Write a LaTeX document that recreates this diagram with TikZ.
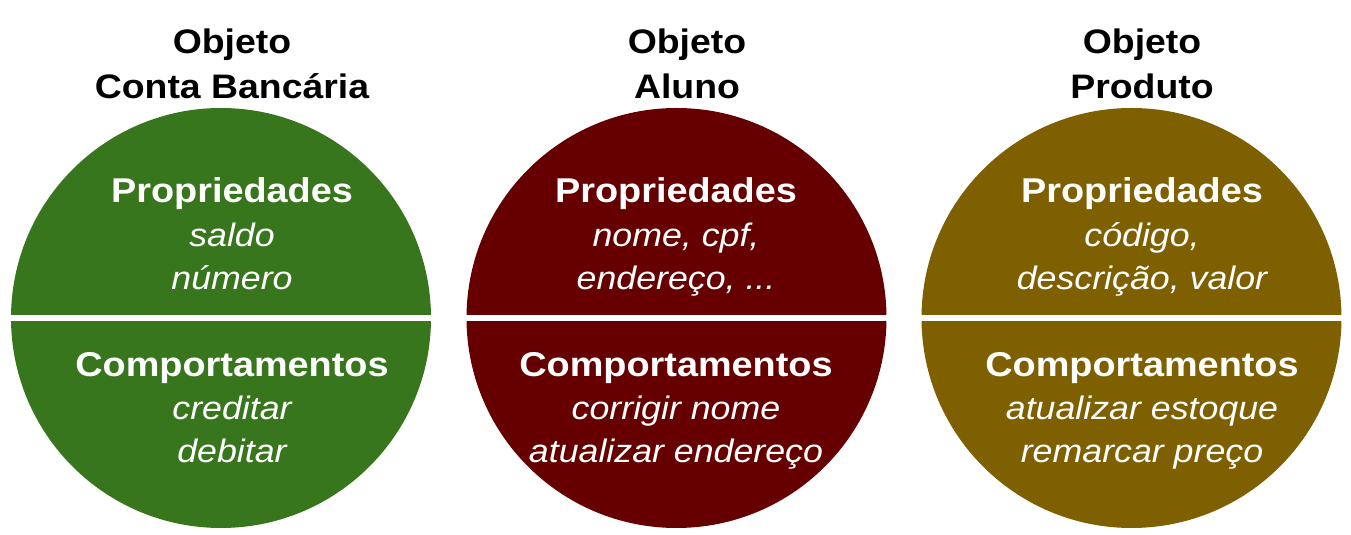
\documentclass[tikz,border=0pt]{standalone}
\usepackage{fontspec}
\setmainfont[FakeStretch=1.1]{Liberation Sans}
\definecolor{cgreen}{HTML}{38761D}
\definecolor{cred}{HTML}{660000}
\definecolor{cgold}{HTML}{7F6000}
\tikzset{
  disc/.style={circle, minimum size=420pt, inner sep=0pt, draw=none},
  divider/.style={white, line width=6pt},
  ttl/.style={anchor=base, inner sep=0pt, font=\fontsize{34}{40}\selectfont\bfseries, text=black},
  head/.style={anchor=base, inner sep=0pt, font=\fontsize{34.4}{40}\selectfont\bfseries, text=white},
  item/.style={anchor=base, inner sep=0pt, font=\fontsize{32.5}{38}\selectfont\itshape, text=white}
}
\begin{document}
\begin{tikzpicture}[x=1pt,y=1pt]
\useasboundingbox (0,0) rectangle (1351,535);
% circles
\node[disc, fill=cgreen] (c1) at (221,217) {};
\node[disc, fill=cred]   (c2) at (676.5,217) {};
\node[disc, fill=cgold]  (c3) at (1131.5,217) {};
\draw[divider] (c1.west) -- (c1.east);
\draw[divider] (c2.west) -- (c2.east);
\draw[divider] (c3.west) -- (c3.east);
% titles
\node[ttl] (t1a) at (232,481) {Objeto};
\node[ttl] (t1b) at (232,436) {Conta Bancária};
\node[ttl] (t2a) at (687,481) {Objeto};
\node[ttl] (t2b) at (687,436) {Aluno};
\node[ttl] (t3a) at (1142,481) {Objeto};
\node[ttl] (t3b) at (1142,436) {Produto};
% green
\node[head] (p1)  at (232,332) {Propriedades};
\node[item] (p1a) at (232,288) {saldo};
\node[item] (p1b) at (232,245) {número};
\node[head] (m1)  at (232,158) {Comportamentos};
\node[item] (m1a) at (232,115) {creditar};
\node[item] (m1b) at (232,72)  {debitar};
% red
\node[head] (p2)  at (676,332) {Propriedades};
\node[item] (p2a) at (676,288) {nome, cpf,};
\node[item] (p2b) at (676,245) {endereço, ...};
\node[head] (m2)  at (676,158) {Comportamentos};
\node[item] (m2a) at (676,115) {corrigir nome};
\node[item] (m2b) at (676,72)  {atualizar endereço};
% gold
\node[head] (p3)  at (1142,332) {Propriedades};
\node[item] (p3a) at (1142,288) {código,};
\node[item] (p3b) at (1142,245) {descrição, valor};
\node[head] (m3)  at (1142,158) {Comportamentos};
\node[item] (m3a) at (1142,115) {atualizar estoque};
\node[item] (m3b) at (1142,72)  {remarcar preço};
\end{tikzpicture}
\end{document}
